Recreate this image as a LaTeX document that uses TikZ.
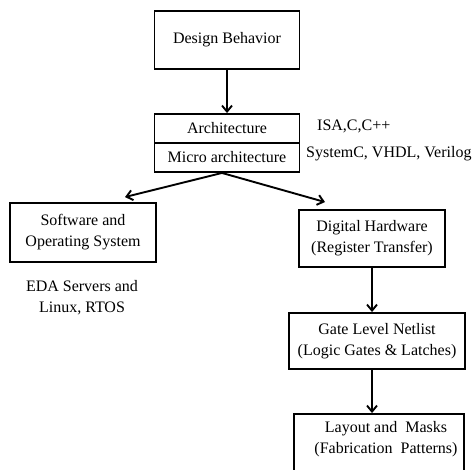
\documentclass[tikz,border=0pt]{standalone}
\usepackage{fontspec}
\setmainfont{Liberation Serif}
\usetikzlibrary{arrows.meta}
\begin{document}
\begin{tikzpicture}[x=1pt,y=-1pt,
  box/.style={draw, line width=1.9pt, rectangle, inner sep=0pt, align=center,
    font=\fontsize{16}{21}\selectfont},
  lbl/.style={inner sep=0pt, align=center, font=\fontsize{16}{21}\selectfont},
  flow/.style={line width=1.9pt, -{Straight Barb[length=6pt,width=10pt,line width=1.9pt]}}]
\useasboundingbox (0,0) rectangle (476,470);
\clip (0,0) rectangle (476,470);
\node[box, minimum width=145pt, minimum height=58pt] (db) at (227,40) {Design Behavior};
\node[box, minimum width=145pt, minimum height=29pt] (arch) at (227,128.5) {Architecture};
\node[box, minimum width=145pt, minimum height=29pt] (micro) at (227,157.5) {Micro architecture};
\node[lbl, anchor=west] (isa) at (317,126) {ISA,C,C++};
\node[lbl, anchor=west] (hdl) at (306,154) {SystemC, VHDL, Verilog};
\node[box, minimum width=146pt, minimum height=59pt] (sw) at (83,232.5) {Software and\\Operating System};
\node[lbl] (eda) at (82,298) {EDA Servers and\\Linux, RTOS};
\node[box, minimum width=146pt, minimum height=57pt] (dh) at (372,238.5) {Digital Hardware\\(Register Transfer)};
\node[box, minimum width=176pt, minimum height=56pt] (gate) at (377,341) {Gate Level Netlist\\(Logic Gates \& Latches)};
\node[box, minimum width=170pt, minimum height=70pt] (lay) at (379,449) {};
\node[lbl] (laytxt) at (386,439) {Layout and\ \ Masks\\(Fabrication\ \ Patterns)};
\draw[flow] (db.south) -- (arch.north);
\draw[flow] ([xshift=-5pt]micro.south) -- ([xshift=42pt,yshift=5pt]sw.north);
\draw[flow] ([xshift=-5pt]micro.south) -- ([xshift=-47pt,yshift=7pt]dh.north);
\draw[flow] (dh.south) -- (dh.south |- gate.north);
\draw[flow] ([xshift=-5pt]gate.south) -- ([xshift=-5pt]gate.south |- lay.north);
\end{tikzpicture}
\end{document}
